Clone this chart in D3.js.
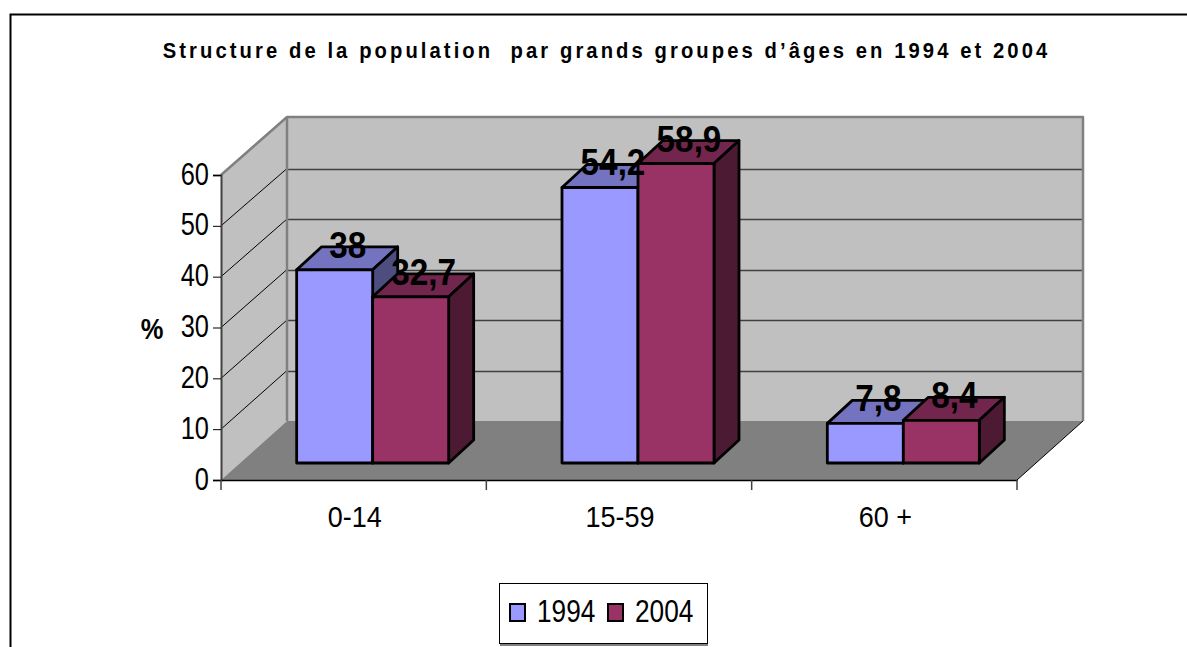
<!DOCTYPE html>
<html>
<head>
<meta charset="utf-8">
<title>Structure de la population</title>
<script src="https://cdn.jsdelivr.net/npm/d3@7"></script>
<style>
    html, body { margin: 0; padding: 0; background: #fff; overflow: hidden; }
    text { font-family: "Liberation Sans", Arial, sans-serif; fill: #000; }
</style>
</head>
<body>
<svg id="chart" width="1187" height="647"></svg>
<script>
const titleText = "Structure de la population  par grands groupes d’âges en 1994 et 2004";
const categories = ["0-14", "15-59", "60 +"];
const years = ["1994", "2004"];
const values1994 = [38, 54.2, 7.8];
const values2004 = [32.7, 58.9, 8.4];
const labels1994 = ["38", "54,2", "7,8"];
const labels2004 = ["32,7", "58,9", "8,4"];
const yTicks = [0, 10, 20, 30, 40, 50, 60];
const yTitle = "%";

const frontColors = ["#9999ff", "#993366"];
const topColors = ["#7373bf", "#73264d"];
const sideColors = ["#4d4d80", "#4d1a33"];

const svg = d3.select("#chart");

// frame, only the top and left edges are visible in the picture
svg.append("path")
    .attr("d", "M10.5,647V14.5H1187")
    .attr("fill", "none")
    .attr("stroke", "#000")
    .attr("stroke-width", 2);

// the original text is tall and narrow, so every label gets a horizontal squeeze
svg.append("text")
    .attr("transform", "translate(606.5,58) scale(0.92,1)")
    .attr("text-anchor", "middle")
    .attr("font-size", 22)
    .attr("font-weight", "bold")
    .attr("letter-spacing", 3.34)
    .style("white-space", "pre")
    .text(titleText);

const x = d3.scaleBand().domain(categories).range([221, 1017]);
const y = d3.scaleLinear().domain([0, 60]).range([480, 175]);
// the back wall is a little shorter than the front plane
const yBack = d3.scaleLinear().domain([0, 60]).range([421, 118]);
const wallX = 66;

const plot = svg.append("g");

// side wall
plot.append("polygon")
    .attr("points", [[221, y(0)], [221 + wallX, yBack(0)], [221 + wallX, yBack(60) - 1], [221, y(60)]].join(" "))
    .attr("fill", "#c0c0c0");

// back wall
plot.append("polygon")
    .attr("points", [[221 + wallX, yBack(0)], [1017 + wallX, yBack(0)], [1017 + wallX, yBack(60) - 1], [221 + wallX, yBack(60) - 1]].join(" "))
    .attr("fill", "#c0c0c0");

// floor
plot.append("polygon")
    .attr("points", [[221, y(0)], [221 + wallX, yBack(0)], [1017 + wallX, yBack(0)], [1017, y(0)]].join(" "))
    .attr("fill", "#808080");

const gridTicks = yTicks.filter(t => t > 0 && t < 60);

plot.selectAll(".grid-back")
    .data(gridTicks)
    .join("line")
    .attr("class", "grid-back")
    .attr("x1", 221 + wallX)
    .attr("x2", 1017 + wallX)
    .attr("y1", d => Math.round(yBack(d)) + 0.5)
    .attr("y2", d => Math.round(yBack(d)) + 0.5)
    .attr("stroke", "#404040")
    .attr("stroke-width", 1.3);

plot.selectAll(".grid-side")
    .data(gridTicks)
    .join("line")
    .attr("class", "grid-side")
    .attr("x1", 221)
    .attr("x2", 221 + wallX)
    .attr("y1", d => y(d))
    .attr("y2", d => yBack(d))
    .attr("stroke", "#000")
    .attr("stroke-width", 1);

// gray outline of the walls
plot.append("path")
    .attr("d", `M221,${y(60)}L${221 + wallX},${yBack(60) - 1}H${1017 + wallX}V${yBack(0)}M${221 + wallX},${yBack(60) - 1}V${yBack(0)}`)
    .attr("fill", "none")
    .attr("stroke", "#808080")
    .attr("stroke-width", 2.5)
    .attr("stroke-linejoin", "round");

// floor edge towards the right
plot.append("line")
    .attr("x1", 1017)
    .attr("y1", y(0))
    .attr("x2", 1017 + wallX)
    .attr("y2", yBack(0))
    .attr("stroke", "#000")
    .attr("stroke-width", 1);

// axes
const yAxisG = svg.append("g")
    .attr("transform", "translate(221,0)")
    .call(d3.axisLeft(y).tickValues(yTicks).tickSize(8).tickFormat(d3.format("d")));

const xAxisTicks = d3.range(categories.length + 1).map(i => 221 + i * x.bandwidth());

const xAxisG = svg.append("g")
    .attr("transform", `translate(0,${y(0)})`)
    .call(d3.axisBottom(x).tickSize(0).tickPadding(26));

yAxisG.selectAll("text")
    .attr("x", null)
    .attr("dy", null)
    .attr("font-size", 31)
    .attr("transform", "translate(-12,9) scale(0.82,1)")
    .style("font-family", "'Liberation Sans', Arial, sans-serif")
    .attr("fill", "#000");

xAxisG.selectAll("text")
    .attr("y", null)
    .attr("dy", null)
    .attr("font-size", 30)
    .attr("transform", "translate(1,47) scale(0.9,1)")
    .style("font-family", "'Liberation Sans', Arial, sans-serif")
    .attr("fill", "#000");

yAxisG.select(".domain").attr("stroke", "#404040").attr("stroke-width", 2);
yAxisG.selectAll("line").attr("stroke", "#000");
xAxisG.select(".domain").attr("stroke", "#000").attr("stroke-width", 1.5);

xAxisG.selectAll(".edge")
    .data(xAxisTicks)
    .join("line")
    .attr("class", "edge")
    .attr("x1", d => d)
    .attr("x2", d => d)
    .attr("y1", 0)
    .attr("y2", 10)
    .attr("stroke", "#404040")
    .attr("stroke-width", 1.5);

svg.append("text")
    .attr("transform", "translate(152,339) scale(0.85,1)")
    .attr("text-anchor", "middle")
    .attr("font-size", 30)
    .attr("font-weight", "bold")
    .text(yTitle);

// bars, standing a bit behind the front plane
const barShiftX = 19;
const barShiftY = 17;
const barWidth = 76;
const barDepthX = 25;
const barDepthY = 23;

const bars = [];
categories.forEach((category, i) => {
    [values1994, values2004].forEach((series, s) => {
        const center = x(category) + x.bandwidth() / 2 + barShiftX;
        bars.push({
            s: s,
            x0: center - barWidth + s * barWidth,
            y0: y(0) - barShiftY,
            y1: y(series[i]) - barShiftY,
            label: (s === 0 ? labels1994 : labels2004)[i]
        });
    });
});

const barGroups = svg.selectAll(".bar")
    .data(bars)
    .join("g")
    .attr("class", "bar")
    .attr("stroke", "#000")
    .attr("stroke-width", 2.8)
    .attr("stroke-linejoin", "round");

barGroups.append("polygon")
    .attr("fill", d => topColors[d.s])
    .attr("points", d => [[d.x0, d.y1], [d.x0 + barDepthX, d.y1 - barDepthY], [d.x0 + barWidth + barDepthX, d.y1 - barDepthY], [d.x0 + barWidth, d.y1]].join(" "));

barGroups.append("polygon")
    .attr("fill", d => sideColors[d.s])
    .attr("points", d => [[d.x0 + barWidth, d.y1], [d.x0 + barWidth + barDepthX, d.y1 - barDepthY], [d.x0 + barWidth + barDepthX, d.y0 - barDepthY], [d.x0 + barWidth, d.y0]].join(" "));

barGroups.append("rect")
    .attr("fill", d => frontColors[d.s])
    .attr("x", d => d.x0)
    .attr("y", d => d.y1)
    .attr("width", barWidth)
    .attr("height", d => d.y0 - d.y1);

svg.selectAll(".value")
    .data(bars)
    .join("text")
    .attr("class", "value")
    .attr("font-size", 37)
    .attr("font-weight", "bold")
    .attr("text-anchor", "middle")
    .attr("transform", d => `translate(${d.x0 + barWidth / 2 + 13},${d.y1 - 12}) scale(0.9,1)`)
    .text(d => d.label);

// legend
const legend = svg.append("g").attr("transform", "translate(499,583)");

legend.append("rect")
    .attr("x", 1)
    .attr("y", 2)
    .attr("width", 208)
    .attr("height", 61)
    .attr("fill", "#808080");

legend.append("rect")
    .attr("x", 0.5)
    .attr("y", 0.5)
    .attr("width", 208)
    .attr("height", 60)
    .attr("fill", "#fff")
    .attr("stroke", "#000")
    .attr("stroke-width", 1);

const legendItems = legend.selectAll(".item")
    .data(years)
    .join("g")
    .attr("class", "item")
    .attr("transform", (d, i) => `translate(${10 + i * 98},0)`);

legendItems.append("rect")
    .attr("x", 1)
    .attr("y", 21)
    .attr("width", 15)
    .attr("height", 17)
    .attr("fill", (d, i) => frontColors[i])
    .attr("stroke", "#000")
    .attr("stroke-width", 2);

legendItems.append("text")
    .attr("transform", "translate(28,39) scale(0.82,1)")
    .attr("font-size", 32)
    .text(d => d);
</script>
</body>
</html>
